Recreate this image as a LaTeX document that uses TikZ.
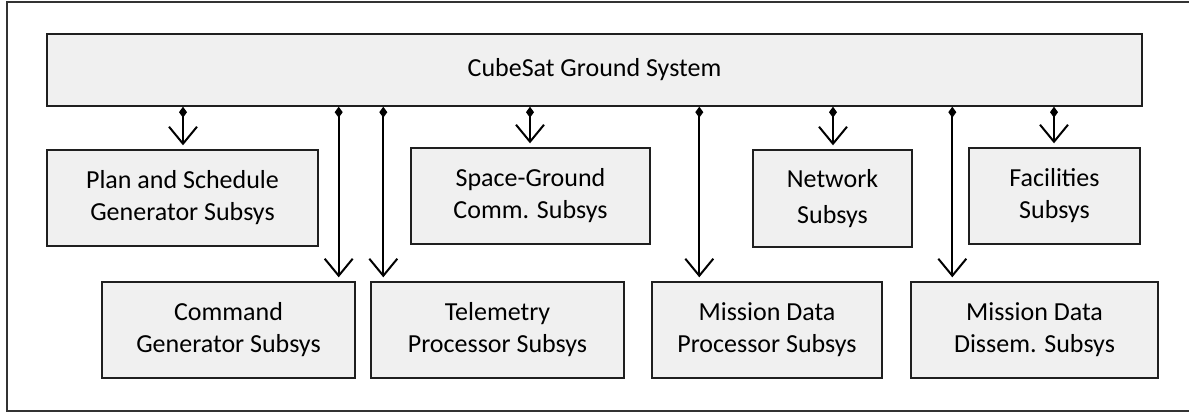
\documentclass[tikz,border=0pt]{standalone}
\usepackage{fontspec}
\setmainfont{Carlito}
\usetikzlibrary{arrows.meta}
\begin{document}
\begin{tikzpicture}[x=1pt,y=-1pt,
  box/.style={draw=black!88,line width=1.4pt,fill=black!6,inner sep=0pt,align=center,
    font=\fontsize{26}{32}\selectfont},
  conn/.style={line width=2pt,draw=black,
    {Diamond[length=11pt,width=8pt]}-{Straight Barb[length=17pt,width=28pt,line width=2pt]},
    shorten >=4pt}
]
\useasboundingbox (0,0) rectangle (1189,412);
\draw[line width=1.3pt,draw=black!80] (1195,2) -- (7,2) -- (7,411) -- (1195,411);
\node[box,minimum width=1095pt,minimum height=72pt] (bar) at (594.5,70) {CubeSat Ground System};
\node[box,minimum width=271pt,minimum height=96pt] (plan) at (182.5,198) {Plan and Schedule\\Generator Subsys};
\node[box,minimum width=239pt,minimum height=96pt] (space) at (530.5,196) {Space-Ground\\Comm. Subsys};
\node[box,minimum width=159pt,minimum height=97pt] (net) at (832.5,198.5) {Network\\[4pt]Subsys};
\node[box,minimum width=171pt,minimum height=96pt] (fac) at (1054.5,196) {Facilities\\Subsys};
\node[box,minimum width=253pt,minimum height=96pt] (cmd) at (228.5,330) {Command\\Generator Subsys};
\node[box,minimum width=253pt,minimum height=96pt] (tlm) at (497.5,330) {Telemetry\\Processor Subsys};
\node[box,minimum width=230pt,minimum height=96pt] (mdp) at (767,330) {Mission Data\\Processor Subsys};
\node[box,minimum width=247pt,minimum height=96pt] (mdd) at (1034.5,330) {Mission Data\\Dissem. Subsys};
\coordinate (pA) at ([xshift=0.5pt]plan.north);
\coordinate (cA) at ([xshift=-17pt]cmd.north east);
\coordinate (tA) at ([xshift=13pt]tlm.north west);
\coordinate (sA) at ([xshift=-0.5pt]space.north);
\coordinate (mA) at ([xshift=48pt]mdp.north west);
\coordinate (nA) at ([xshift=0.5pt]net.north);
\coordinate (dA) at ([xshift=42pt]mdd.north west);
\coordinate (fA) at ([xshift=-0.5pt]fac.north);
\foreach \t in {pA,cA,tA,sA,mA,nA,dA,fA}
  \draw[conn] (bar.south -| \t) -- (\t);
\end{tikzpicture}
\end{document}
